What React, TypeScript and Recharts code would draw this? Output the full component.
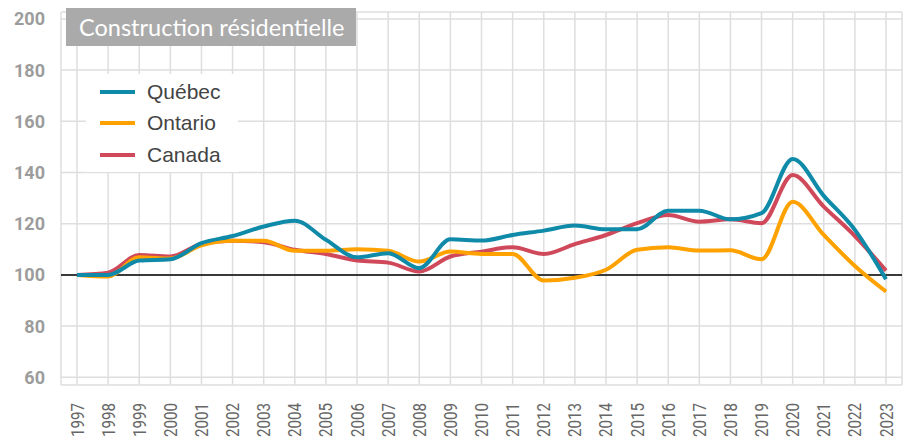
import { LineChart, Line, XAxis, YAxis, CartesianGrid, ReferenceLine } from 'recharts';

const years = [
  1997, 1998, 1999, 2000, 2001, 2002, 2003, 2004, 2005, 2006, 2007, 2008, 2009,
  2010, 2011, 2012, 2013, 2014, 2015, 2016, 2017, 2018, 2019, 2020, 2021, 2022, 2023,
];
const quebec = [
  100, 100, 105.6, 106.1, 112.4, 115.2, 118.9, 121.2, 113.7, 106.9, 108.5, 102.6, 113.9,
  113.4, 115.6, 117.3, 119.3, 117.8, 117.8, 125.1, 125.1, 121.7, 124.1, 145.3, 130.9, 117.6, 98.3,
];
const ontario = [
  100, 99.4, 106.9, 106.4, 111.6, 113.3, 113.3, 109.4, 109.4, 110, 109.4, 105.2, 109.1,
  108.2, 108.2, 97.8, 98.9, 102, 109.8, 110.8, 109.5, 109.6, 106.1, 128.6, 115.6, 103.5, 93.5,
];
const canada = [
  100, 100.9, 107.8, 107.2, 112.1, 113.3, 112.8, 109.8, 108.2, 105.6, 104.8, 101.3, 107.2,
  109.1, 110.8, 108.2, 112, 115.6, 120.2, 123.4, 120.8, 121.7, 120.2, 139, 126.7, 115.2, 101.7,
];
const yTicks = [60, 80, 100, 120, 140, 160, 180, 200];

const series = [
  { key: 'canada', name: 'Canada', color: '#d0495a' },
  { key: 'ontario', name: 'Ontario', color: '#ffa200' },
  { key: 'quebec', name: 'Québec', color: '#0f8aa9' },
];
const legendOrder = ['quebec', 'ontario', 'canada'];

const data = years.map((year, i) => ({
  year,
  quebec: quebec[i],
  ontario: ontario[i],
  canada: canada[i],
}));

function YearTick(props: any) {
  const { x, y, payload } = props;
  return (
    <g transform={`translate(${x},${y + 10}) rotate(-90) scale(0.84,1)`}>
      <text x={0} y={0} dy={6.5} textAnchor="end" fontFamily="Roboto, sans-serif" fontSize={18} fill="#666">
        {payload.value}
      </text>
    </g>
  );
}

export default function App() {
  return (
    <div style={{ position: 'absolute', left: 0, top: 0, width: 911, height: 444, background: '#fff' }}>
      <LineChart width={911} height={444} data={data} margin={{ top: 12, right: 9, left: 0, bottom: 0 }}>
        <CartesianGrid stroke="#dedede" strokeWidth={1.5} />
        <XAxis
          dataKey="year"
          padding={{ left: 16, right: 16 }}
          height={59}
          axisLine={false}
          tickLine={false}
          interval={0}
          tick={<YearTick />}
        />
        <YAxis
          width={61}
          domain={[57, 202.7]}
          ticks={yTicks}
          axisLine={false}
          tickLine={false}
          tickMargin={10}
          tick={{ fill: '#9c9c9c', fontSize: 18, fontWeight: 700, fontFamily: 'Roboto, sans-serif' }}
        />
        <ReferenceLine y={100} stroke="#000" strokeWidth={1.5} />
        {series.map((s) => (
          <Line
            key={s.key}
            type="monotone"
            dataKey={s.key}
            name={s.name}
            stroke={s.color}
            strokeWidth={4}
            dot={false}
            isAnimationActive={false}
          />
        ))}
      </LineChart>
      <div
        style={{
          position: 'absolute',
          left: 86,
          top: 74,
          width: 152,
          height: 98,
          background: '#fff',
          padding: '2px 0 0 14px',
          boxSizing: 'border-box',
          fontFamily: "'Liberation Sans', Arial, sans-serif",
        }}
      >
        {legendOrder.map((k) => {
          const s = series.find((d) => d.key === k)!;
          return (
            <div key={k} style={{ display: 'flex', alignItems: 'center', height: 31.5 }}>
              <span style={{ display: 'inline-block', width: 35, height: 4, background: s.color, marginRight: 12 }} />
              <span style={{ fontSize: 21, color: '#444' }}>{s.name}</span>
            </div>
          );
        })}
      </div>
      <div
        style={{
          position: 'absolute',
          left: 66,
          top: 8,
          width: 290,
          height: 38,
          background: '#aaaaaa',
          color: '#fff',
          fontFamily: 'Lato, sans-serif',
          fontSize: 23.5,
          lineHeight: '38px',
          paddingLeft: 13,
          boxSizing: 'border-box',
          whiteSpace: 'nowrap',
        }}
      >
        Construction résidentielle
      </div>
    </div>
  );
}
